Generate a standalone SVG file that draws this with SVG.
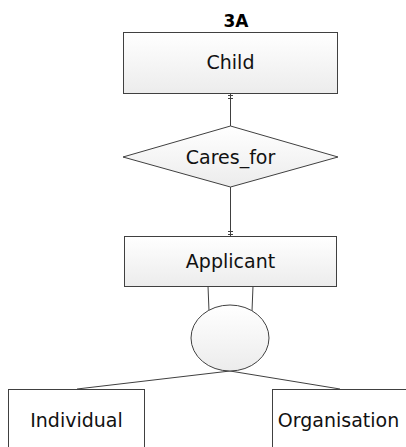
<svg xmlns="http://www.w3.org/2000/svg" width="406" height="447" viewBox="0 0 406 447">
  <defs>
    <linearGradient id="boxFill" x1="0" y1="0" x2="0" y2="1">
      <stop offset="0" stop-color="#ffffff"/>
      <stop offset="1" stop-color="#ececec"/>
    </linearGradient>
    <style>
      .shape { fill: url(#boxFill); stroke: #404040; stroke-width: 1; }
      .plain { fill: #ffffff; stroke: #404040; stroke-width: 1; }
      .conn { fill: none; stroke: #404040; stroke-width: 1; }
      .lbl { font-family: "DejaVu Sans", "Liberation Sans", sans-serif; font-size: 19px; fill: #111111; text-anchor: middle; }
      .title { font-family: "DejaVu Sans", "Liberation Sans", sans-serif; font-size: 17px; font-weight: bold; fill: #000000; text-anchor: middle; }
    </style>
  </defs>
  <rect width="406" height="447" fill="#ffffff"/>
  <text class="title" x="236" y="27">3A</text>

  <g id="connectors">
    <line class="conn" x1="230.5" y1="93" x2="230.5" y2="126"/>
    <line class="conn" x1="228" y1="95.5" x2="233" y2="95.5"/>
    <line class="conn" x1="228" y1="98.5" x2="233" y2="98.5"/>
    <line class="conn" x1="230.5" y1="187" x2="230.5" y2="236"/>
    <line class="conn" x1="228" y1="231.5" x2="233" y2="231.5"/>
    <line class="conn" x1="228" y1="234.5" x2="233" y2="234.5"/>
    <line class="conn" x1="208" y1="286" x2="209" y2="311"/>
    <line class="conn" x1="253" y1="286" x2="252" y2="311"/>
    <line class="conn" x1="230" y1="371" x2="77" y2="389"/>
    <line class="conn" x1="230" y1="371" x2="340" y2="389"/>
  </g>

  <g id="child">
    <rect class="shape" x="123.5" y="32.5" width="214" height="61"/>
    <text class="lbl" x="230.5" y="69">Child</text>
  </g>

  <g id="cares_for">
    <polygon class="shape" points="230.5,126 338,157 230.5,187 123,157"/>
    <text class="lbl" x="230.5" y="164">Cares_for</text>
  </g>

  <g id="applicant">
    <rect class="shape" x="124.5" y="236.5" width="212" height="50"/>
    <text class="lbl" x="230.5" y="268">Applicant</text>
  </g>

  <g id="disjoint">
    <ellipse class="shape" cx="230" cy="338" rx="39" ry="33"/>
  </g>

  <g id="individual">
    <rect class="plain" x="8.5" y="389.5" width="136" height="70"/>
    <text class="lbl" x="76.5" y="427">Individual</text>
  </g>

  <g id="organisation">
    <rect class="plain" x="272.5" y="389.5" width="150" height="70"/>
    <text class="lbl" x="338.5" y="427">Organisation</text>
  </g>
</svg>
